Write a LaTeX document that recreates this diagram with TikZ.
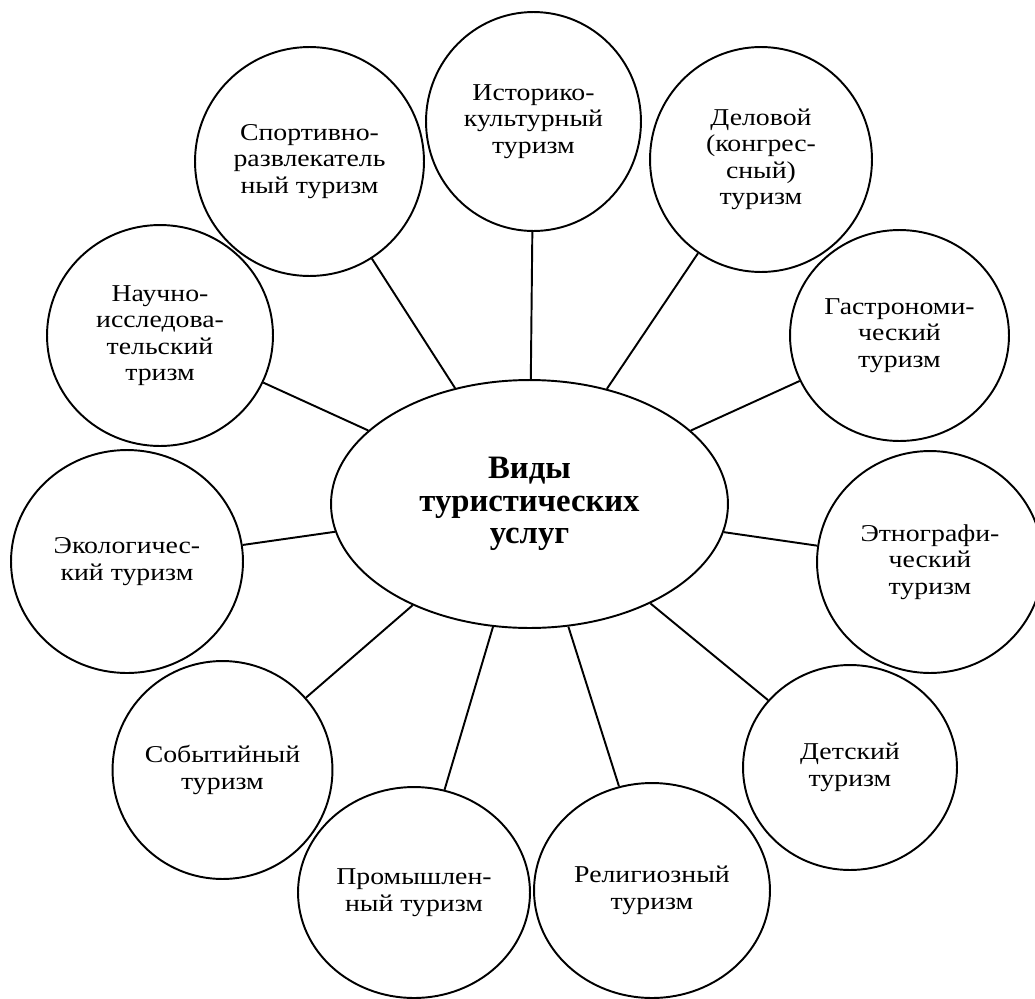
\documentclass[tikz,border=0pt]{standalone}
\usepackage{fontspec}
\setmainfont{Liberation Serif}
\newfontfamily\bubblefont{Liberation Serif}[FakeStretch=1.15]
\usetikzlibrary{shapes.geometric}

\begin{document}
\begin{tikzpicture}[
    x=0.02cm, y=-0.02cm,
    bubble/.style={ellipse, draw=black, line width=1.1pt, inner sep=0pt, align=center,
        font=\bubblefont\fontsize{13.75}{15.1}\selectfont},
    hub/.style={ellipse, draw=black, line width=1.1pt, inner sep=0pt, align=center,
        font=\fontsize{18.6}{18.6}\selectfont\bfseries},
    link/.style={line width=1.1pt}
]

\useasboundingbox (0,0) rectangle (1035,998);

% central node
\node[hub, minimum width=7.94cm, minimum height=4.96cm] (vidy) at (529.5,504) {Виды\\туристических\\услуг};

% clockwise from the top
\node[bubble, minimum width=4.30cm, minimum height=4.38cm] (hist) at (533.5,121.5) {Историко-\\культурный\\туризм};
\node[bubble, minimum width=4.44cm, minimum height=4.50cm] (delov) at (761,159.5) {Деловой\\(конгрес-\\сный)\\туризм};
\node[bubble, minimum width=4.38cm, minimum height=4.22cm] (gastr) at (899.5,335.5) {Гастрономи-\\ческий\\туризм};
\node[bubble, minimum width=4.52cm, minimum height=4.44cm] (etno) at (930,562) {Этнографи-\\ческий\\туризм};
\node[bubble, minimum width=4.28cm, minimum height=4.10cm] (deti) at (850,767.5) {Детский\\туризм};
\node[bubble, minimum width=4.72cm, minimum height=4.30cm] (relig) at (652,890.5) {Религиозный\\туризм};
\node[bubble, minimum width=4.64cm, minimum height=4.22cm] (prom) at (414,892.5) {Промышлен-\\ный туризм};
\node[bubble, minimum width=4.38cm, minimum height=4.36cm] (sobyt) at (222.5,770) {Событийный\\туризм};
\node[bubble, minimum width=4.64cm, minimum height=4.46cm] (ekol) at (127,561.5) {Экологичес-\\кий туризм};
\node[bubble, minimum width=4.52cm, minimum height=4.42cm] (nauch) at (160,335.5) {Научно-\\исследова-\\тельский\\тризм};
\node[bubble, minimum width=4.58cm, minimum height=4.58cm] (sport) at (309.5,161.5) {Спортивно-\\развлекатель\\ный туризм};

% spokes
\foreach \n in {hist,delov,gastr,etno,deti,relig,prom,sobyt,ekol,nauch,sport}
    \draw[link] (vidy) -- (\n);

\end{tikzpicture}
\end{document}
